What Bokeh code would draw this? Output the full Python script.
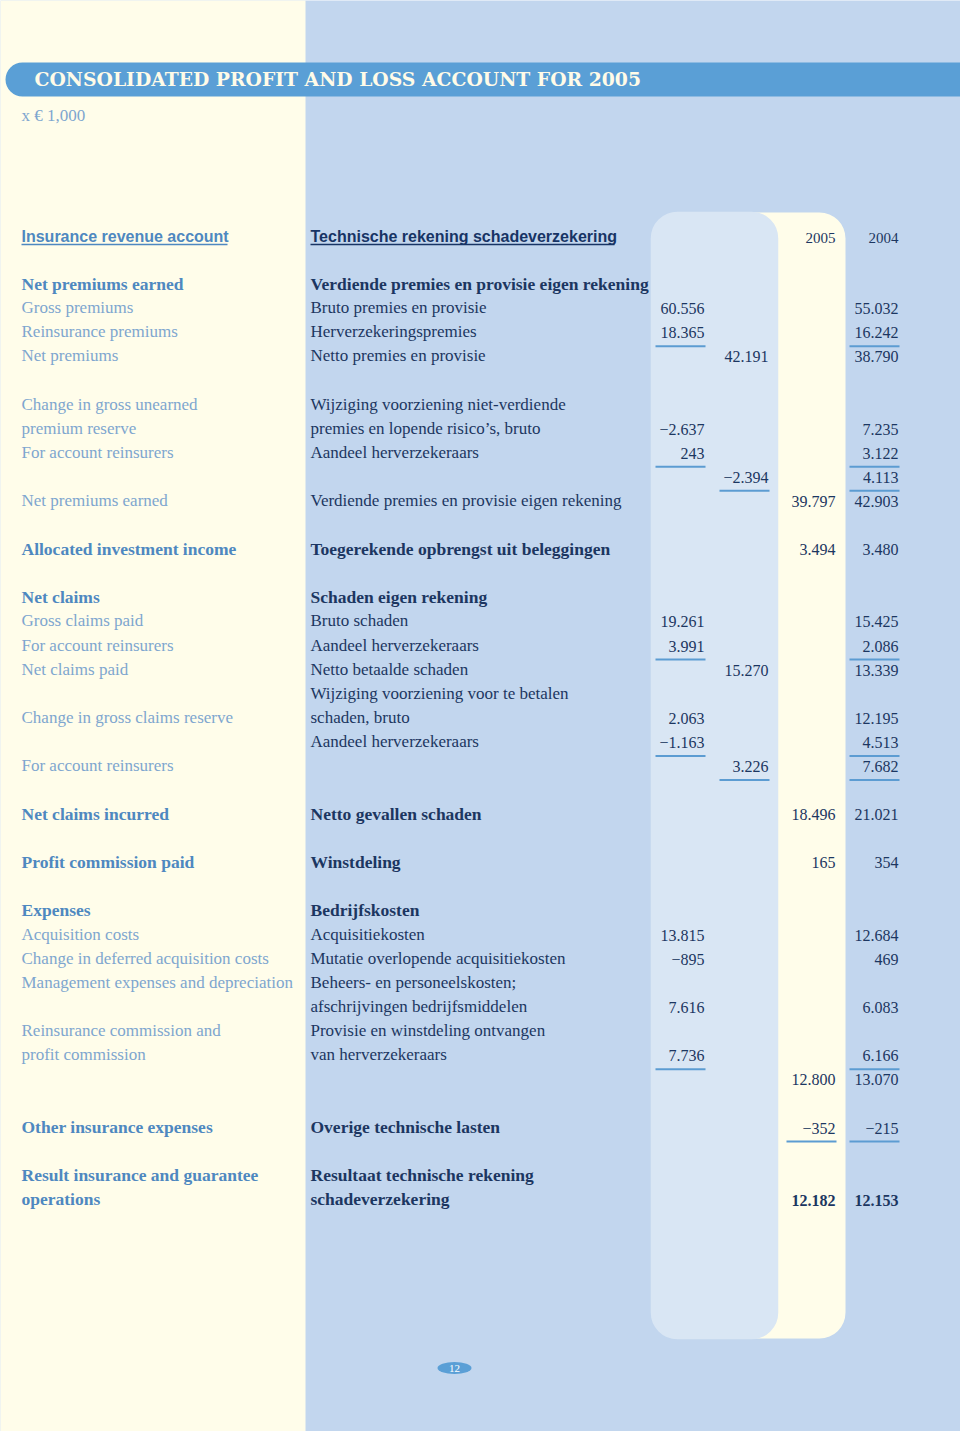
from bokeh.plotting import figure
from bokeh.models import Range1d, ColumnDataSource
from bokeh.core.properties import value
from bokeh.embed import file_html
from bokeh.resources import INLINE

# ---------------- data ----------------
title = "CONSOLIDATED PROFIT AND LOSS ACCOUNT FOR 2005"
unit_label = "x € 1,000"
head_en = "Insurance revenue account"
head_nl = "Technische rekening schadeverzekering"
years = ["2005", "2004"]
page_no = "12"

en_labels = [
    "Net premiums earned", "Gross premiums", "Reinsurance premiums", "Net premiums", "",
    "Change in gross unearned", "premium reserve", "For account reinsurers", "", "Net premiums earned", "",
    "Allocated investment income", "",
    "Net claims", "Gross claims paid", "For account reinsurers", "Net claims paid", "",
    "Change in gross claims reserve", "", "For account reinsurers", "",
    "Net claims incurred", "", "Profit commission paid", "",
    "Expenses", "Acquisition costs", "Change in deferred acquisition costs",
    "Management expenses and depreciation", "", "Reinsurance commission and", "profit commission", "", "",
    "Other insurance expenses", "", "Result insurance and guarantee", "operations",
]
nl_labels = [
    "Verdiende premies en provisie eigen rekening", "Bruto premies en provisie", "Herverzekeringspremies",
    "Netto premies en provisie", "",
    "Wijziging voorziening niet-verdiende", "premies en lopende risico’s, bruto", "Aandeel herverzekeraars", "",
    "Verdiende premies en provisie eigen rekening", "",
    "Toegerekende opbrengst uit beleggingen", "",
    "Schaden eigen rekening", "Bruto schaden", "Aandeel herverzekeraars", "Netto betaalde schaden",
    "Wijziging voorziening voor te betalen", "schaden, bruto", "Aandeel herverzekeraars", "", "",
    "Netto gevallen schaden", "", "Winstdeling", "",
    "Bedrijfskosten", "Acquisitiekosten", "Mutatie overlopende acquisitiekosten",
    "Beheers- en personeelskosten;", "afschrijvingen bedrijfsmiddelen",
    "Provisie en winstdeling ontvangen", "van herverzekeraars", "", "",
    "Overige technische lasten", "", "Resultaat technische rekening", "schadeverzekering",
]
bold_rows = [0, 11, 13, 22, 24, 26, 35, 37, 38]

detail_rows = [1, 2, 6, 7, 14, 15, 18, 19, 27, 28, 30, 32]
detail_vals = [60556, 18365, -2637, 243, 19261, 3991, 2063, -1163, 13815, -895, 7616, 7736]
detail_ul = [2, 7, 15, 19, 32]

subtotal_rows = [3, 8, 16, 20]
subtotal_vals = [42191, -2394, 15270, 3226]
subtotal_ul = [8, 20]

y2005_rows = [9, 11, 22, 24, 33, 35, 38]
y2005_vals = [39797, 3494, 18496, 165, 12800, -352, 12182]
y2005_ul = [35]

y2004_rows = [1, 2, 3, 6, 7, 8, 9, 11, 14, 15, 16, 18, 19, 20, 22, 24, 27, 28, 30, 32, 33, 35, 38]
y2004_vals = [55032, 16242, 38790, 7235, 3122, 4113, 42903, 3480, 15425, 2086, 13339, 12195, 4513,
              7682, 21021, 354, 12684, 469, 6083, 6166, 13070, -215, 12153]
y2004_ul = [2, 7, 8, 15, 19, 20, 32, 35]

bold_value_rows = [38]

# ---------------- layout / style ----------------
W, H = 960, 1431
ROW0, ROWH = 283, 24.1
X_EN, X_NL = 21, 310
COL_RIGHT = [704, 768, 835, 898]
UL_W = 49

CREAM = "#FFFDEA"
BLUE_BG = "#C2D6EE"
LIGHT = "#D9E6F4"
BAR = "#5A9FD6"
EN_LIGHT = "#7EA6CF"
EN_BOLD = "#4E88C0"
NAVY = "#1C3661"
UL_COL = "#5C9CD2"
SERIF = "Liberation Serif"
SANS = "Liberation Sans"


def row_y(i):
    return ROW0 + i * ROWH


def fmt(v):
    s = f"{abs(v):,}".replace(",", ".")
    return ("−" + s) if v < 0 else s


p = figure(width=W, height=H, x_range=Range1d(0, W), y_range=Range1d(H, 0),
           output_backend="svg", toolbar_location=None, min_border=0)
p.axis.visible = False
p.grid.visible = False
p.outline_line_color = None
p.background_fill_color = BLUE_BG
p.border_fill_color = BLUE_BG

# backgrounds
p.quad(left=[-5], right=[305], top=[-5], bottom=[1440], fill_color=CREAM, line_color=None)
p.quad(left=[700], right=[845], top=[212], bottom=[1338], fill_color=CREAM, line_color=None,
       border_radius=26)
p.quad(left=[651], right=[777], top=[212], bottom=[1338], fill_color=LIGHT, line_color=LIGHT,
       line_width=1.5, border_radius=26)
# title bar
p.quad(left=[5], right=[1000], top=[62], bottom=[96], fill_color=BAR, line_color=None,
       border_radius=17)
p.text(x=[34], y=[78], text=[title], text_font=value("DejaVu Serif"), text_font_size="18.8px",
       text_font_style="bold", text_color="#FFFBE8", text_baseline="middle")
p.text(x=[X_EN], y=[115], text=[unit_label], text_font=value(SERIF), text_font_size="17px",
       text_color=EN_LIGHT, text_baseline="middle")

# column headers
p.text(x=[X_EN], y=[236], text=[head_en], text_font=value(SANS), text_font_size="16px",
       text_font_style="bold", text_color=EN_BOLD, text_baseline="middle")
p.segment(x0=[X_EN], x1=[227], y0=[244], y1=[244], line_color=EN_BOLD, line_width=1.5)
p.text(x=[X_NL], y=[236], text=[head_nl], text_font=value(SANS), text_font_size="16px",
       text_font_style="bold", text_color="#173465", text_baseline="middle")
p.segment(x0=[X_NL], x1=[614], y0=[244], y1=[244], line_color="#173465", line_width=1.5)
p.text(x=COL_RIGHT[2:], y=[237, 237], text=years, text_font=value(SERIF), text_font_size="15px",
       text_color=NAVY, text_align="right", text_baseline="middle")

# labels
def label_src(labels, x, bold):
    xs, ys, ts = [], [], []
    for i, t in enumerate(labels):
        if t and ((i in bold_rows) == bold):
            xs.append(x); ys.append(row_y(i)); ts.append(t)
    return ColumnDataSource(dict(x=xs, y=ys, text=ts))

for bold in (False, True):
    size = "17.5px" if bold else "17px"
    p.text(x="x", y="y", text="text", source=label_src(en_labels, X_EN, bold),
           text_font=value(SERIF), text_font_size=size,
           text_font_style="bold" if bold else "normal",
           text_color=EN_BOLD if bold else EN_LIGHT, text_baseline="middle")
    p.text(x="x", y="y", text="text", source=label_src(nl_labels, X_NL, bold),
           text_font=value(SERIF), text_font_size=size,
           text_font_style="bold" if bold else "normal",
           text_color=NAVY, text_baseline="middle")

# values
columns = [(detail_rows, detail_vals, detail_ul), (subtotal_rows, subtotal_vals, subtotal_ul),
           (y2005_rows, y2005_vals, y2005_ul), (y2004_rows, y2004_vals, y2004_ul)]
for (rows, vals, uls), xr in zip(columns, COL_RIGHT):
    for bold in (False, True):
        sel = [(r, v) for r, v in zip(rows, vals) if (r in bold_value_rows) == bold]
        if not sel:
            continue
        src = ColumnDataSource(dict(x=[xr] * len(sel), y=[row_y(r) + 1 for r, _ in sel],
                                    text=[fmt(v) for _, v in sel]))
        p.text(x="x", y="y", text="text", source=src, text_font=value(SERIF),
               text_font_size="16px", text_font_style="bold" if bold else "normal",
               text_color=NAVY, text_align="right", text_baseline="middle")
    ys = [row_y(r) + 14.5 for r in uls]
    p.segment(x0=[xr - UL_W] * len(uls), x1=[xr + 1] * len(uls), y0=ys, y1=ys,
              line_color=UL_COL, line_width=2)

# page number
p.ellipse(x=[454], y=[1367.5], width=[34], height=[12], fill_color=BAR, line_color=None)
p.text(x=[454], y=[1368], text=[page_no], text_font=value(SERIF), text_font_size="11px",
       text_color="white", text_align="center", text_baseline="middle")

open("out.html", "w").write(file_html(p, INLINE))
